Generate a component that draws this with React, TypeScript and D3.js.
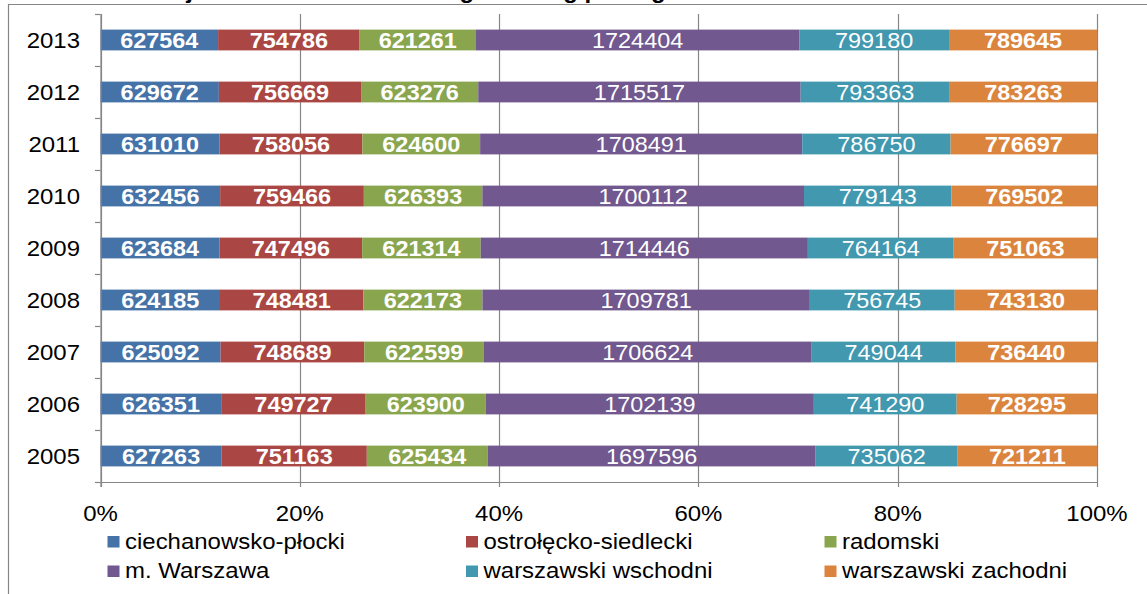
import React from "react";
import * as d3 from "d3";

const years = ["2013", "2012", "2011", "2010", "2009", "2008", "2007", "2006", "2005"];
const seriesNames = [
  "ciechanowsko-płocki",
  "ostrołęcko-siedlecki",
  "radomski",
  "m. Warszawa",
  "warszawski wschodni",
  "warszawski zachodni",
];
const seriesColors = ["#4572A7", "#AA4643", "#89A54E", "#71588F", "#4198AF", "#DB843D"];
const boldLabels = [true, true, true, false, false, true];

const ciechanowskoPlocki = [627564, 629672, 631010, 632456, 623684, 624185, 625092, 626351, 627263];
const ostroleckoSiedlecki = [754786, 756669, 758056, 759466, 747496, 748481, 748689, 749727, 751163];
const radomski = [621261, 623276, 624600, 626393, 621314, 622173, 622599, 623900, 625434];
const mWarszawa = [1724404, 1715517, 1708491, 1700112, 1714446, 1709781, 1706624, 1702139, 1697596];
const warszawskiWschodni = [799180, 793363, 786750, 779143, 764164, 756745, 749044, 741290, 735062];
const warszawskiZachodni = [789645, 783263, 776697, 769502, 751063, 743130, 736440, 728295, 721211];

const seriesValues = [
  ciechanowskoPlocki,
  ostroleckoSiedlecki,
  radomski,
  mWarszawa,
  warszawskiWschodni,
  warszawskiZachodni,
];
const xTicks = [0, 0.2, 0.4, 0.6, 0.8, 1];
const xTickLabels = ["0%", "20%", "40%", "60%", "80%", "100%"];
const titleText = "Struktura ludności województwa mazowieckiego według podregionów";

const W = 1147;
const H = 594;
const FONT = "'Liberation Sans', Arial, sans-serif";
const SX = 1.09;
const GRID = "#868686";

function T(props: {
  x: number;
  y: number;
  anchor?: "start" | "middle" | "end";
  size: number;
  fill?: string;
  weight?: string;
  sx?: number;
  children: React.ReactNode;
}) {
  const { x, y, anchor = "start", size, fill = "#000", weight = "normal", sx = SX, children } = props;
  return (
    <text
      transform={`translate(${x},${y}) scale(${sx},1)`}
      x={0}
      y={0}
      textAnchor={anchor}
      fontSize={size}
      fontFamily={FONT}
      fontWeight={weight}
      fill={fill}
    >
      {children}
    </text>
  );
}

export default function App() {
  const x = d3.scaleLinear().domain([0, 1]).range([100.5, 1097]);
  const y = d3
    .scaleBand<string>()
    .domain(years)
    .range([14, 482])
    .paddingInner(0.6)
    .paddingOuter(0.3);
  const step = y.step();
  const top = 14;
  const bottom = 482;

  const rows = years.map((yr, i) => {
    const vals = seriesValues.map((s) => s[i]);
    const total = d3.sum(vals);
    let acc = 0;
    const segs = vals.map((v, k) => {
      const x0 = acc / total;
      acc += v;
      const x1 = acc / total;
      return { k, v, x0, x1 };
    });
    return { yr, segs };
  });

  const legendCols = [107.5, 466, 824.5];
  const legendRows = [536, 565.5];

  return (
    <svg width={W} height={H} style={{ position: "absolute", left: 0, top: 0, display: "block" }}>
      <rect x={0} y={0} width={W} height={H} fill="#fff" />
      <T x={735} y={-2} anchor="end" size={22} weight="bold">
        {titleText}
      </T>
      <path d={`M8.5,${H} V4.5 H${W}`} fill="none" stroke={GRID} strokeWidth={1.2} />

      {/* gridlines */}
      {xTicks.map((t) => (
        <line
          key={"g" + t}
          x1={Math.round(x(t)) + 0.5}
          x2={Math.round(x(t)) + 0.5}
          y1={top}
          y2={bottom + 5}
          stroke={GRID}
          strokeWidth={1.2}
        />
      ))}
      {/* x axis */}
      <line x1={x(0)} x2={x(1)} y1={bottom + 0.5} y2={bottom + 0.5} stroke={GRID} strokeWidth={1.2} />
      {/* y axis ticks */}
      {d3.range(years.length + 1).map((i) => (
        <line
          key={"yt" + i}
          x1={95}
          x2={x(0)}
          y1={Math.round(top + i * step) + 0.5}
          y2={Math.round(top + i * step) + 0.5}
          stroke={GRID}
          strokeWidth={1.2}
        />
      ))}

      {/* bars */}
      {rows.map((r) => {
        const by = y(r.yr)!;
        const bh = y.bandwidth();
        const cy = by + bh / 2;
        return (
          <g key={r.yr}>
            {r.segs.map((s) => (
              <rect
                key={s.k}
                x={x(s.x0)}
                y={by}
                width={x(s.x1) - x(s.x0)}
                height={bh}
                fill={seriesColors[s.k]}
              />
            ))}
            {r.segs.map((s) => (
              <T
                key={"l" + s.k}
                x={(x(s.x0) + x(s.x1)) / 2}
                y={cy + 7.8}
                anchor="middle"
                size={21.5}
                fill="#fff"
                weight={boldLabels[s.k] ? "bold" : "normal"}
              >
                {String(s.v)}
              </T>
            ))}
            <T x={80} y={cy + 8} anchor="end" size={22}>
              {r.yr}
            </T>
          </g>
        );
      })}
      {/* y axis line */}
      <line x1={x(0) + 0.5} x2={x(0) + 0.5} y1={top} y2={bottom + 5} stroke={GRID} strokeWidth={1.2} />

      {/* x tick labels */}
      {xTicks.map((t, i) => (
        <T key={"xl" + t} x={x(t)} y={521} anchor="middle" size={22}>
          {xTickLabels[i]}
        </T>
      ))}

      {/* legend */}
      {seriesNames.map((name, k) => {
        const col = k % 3;
        const row = Math.floor(k / 3);
        const lx = legendCols[col];
        const ly = legendRows[row];
        return (
          <g key={name}>
            <rect x={lx} y={ly} width={12} height={11.5} fill={seriesColors[k]} />
            <T x={lx + 17.5} y={ly + 12.5} size={22}>
              {name}
            </T>
          </g>
        );
      })}
    </svg>
  );
}
